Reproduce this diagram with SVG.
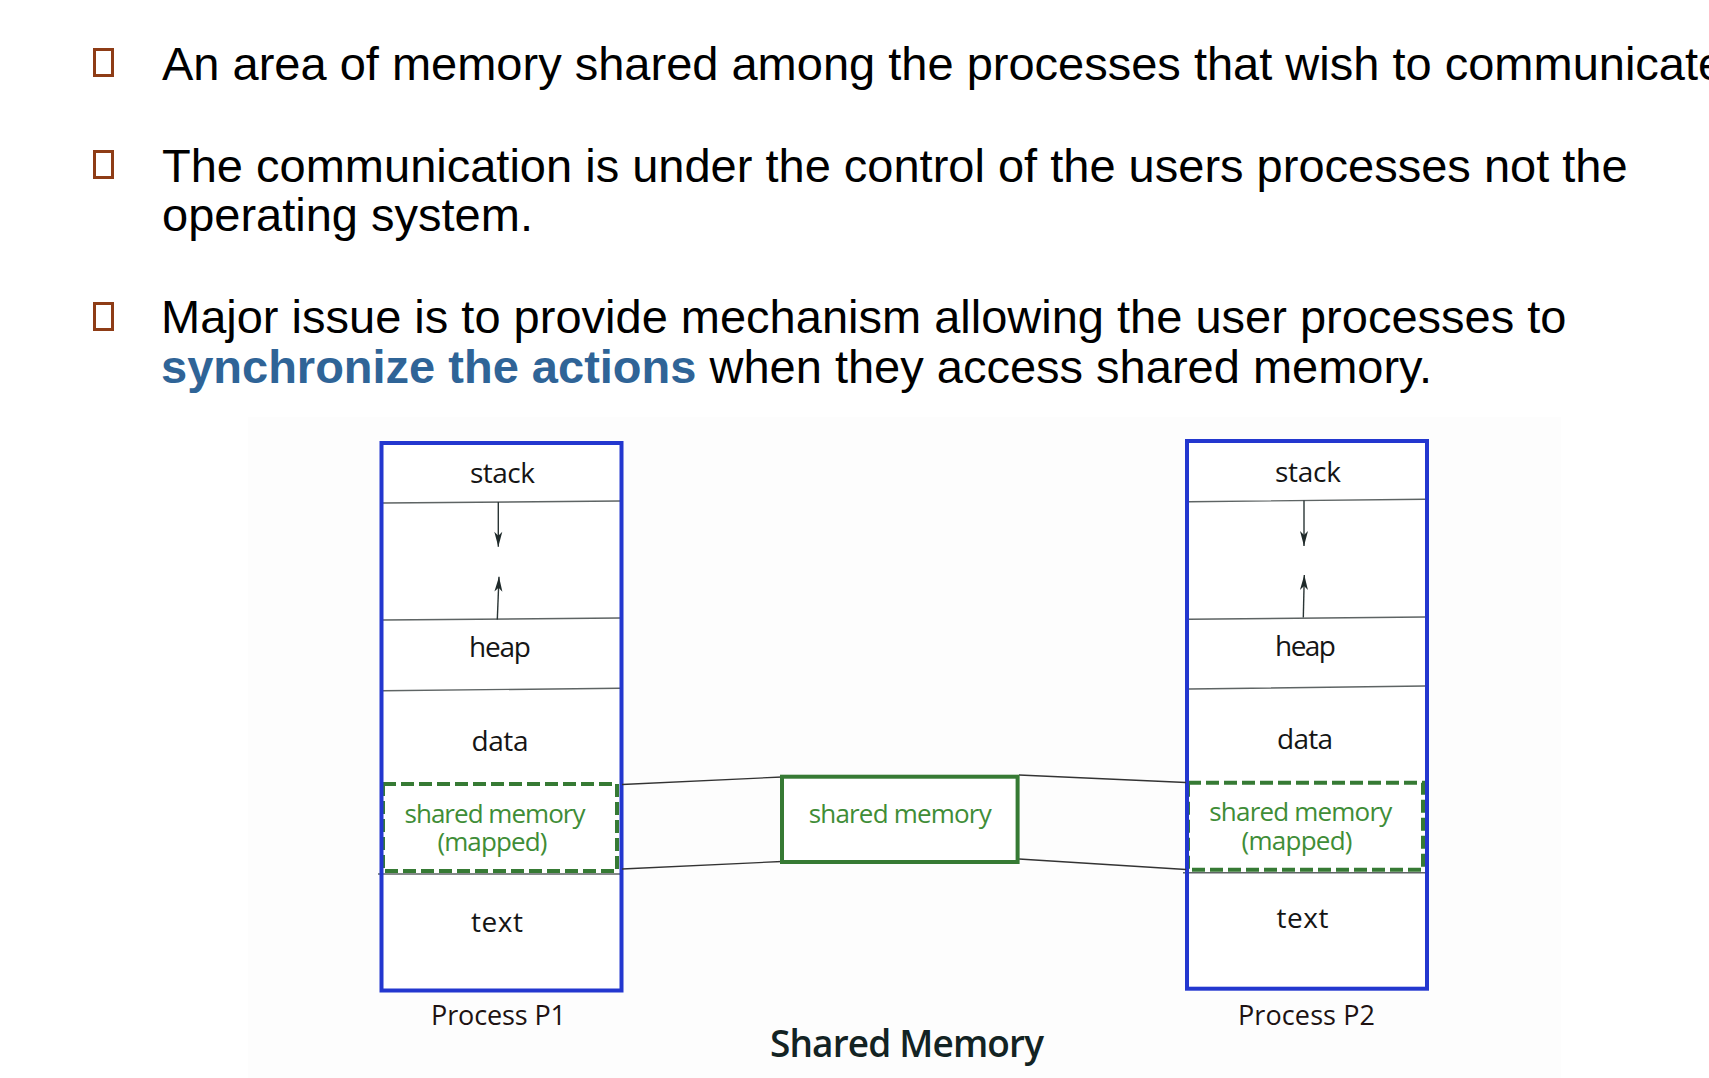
<svg xmlns="http://www.w3.org/2000/svg" width="1709" height="1078" viewBox="0 0 1709 1078">
  <style>
    .body { font-family: "Liberation Sans", Arial, sans-serif; font-size: 47px; fill: #000; }
    .em { font-weight: bold; fill: #2F6497; }
    .bullet { fill: none; stroke: #8E3C16; stroke-width: 3; }
    .lbl { font-family: "Open Sans", "Noto Sans", sans-serif; font-size: 28px; fill: #151515; text-anchor: middle; }
    .green { fill: #3F8D37; font-size: 26px; }
    .cap { fill: #201212; font-size: 27px; }
    .title { font-family: "Open Sans", "Noto Sans", sans-serif; font-size: 37px; font-weight: 600; fill: #132323; text-anchor: middle; }
    .proc { fill: none; stroke: #2337CF; stroke-width: 4; }
    .divider { fill: none; stroke: #5E6464; stroke-width: 1.4; }
    .mapped { fill: none; stroke: #367A34; stroke-width: 4; stroke-dasharray: 13 5; }
    .shm { fill: #fff; stroke: #367A34; stroke-width: 4; }
    .link { fill: none; stroke: #333; stroke-width: 1.3; }
    .grow { fill: none; stroke: #2A3535; stroke-width: 1.4; marker-end: url(#dart); }
  </style>
  <defs>
    <marker id="dart" viewBox="-16 -5 17 10" refX="0" refY="0" markerWidth="17" markerHeight="10" markerUnits="userSpaceOnUse" orient="auto">
      <path d="M0,0 L-15,-4 L-11,0 L-15,4 Z" fill="#1F2A2A"/>
    </marker>
  </defs>

  <rect width="1709" height="1078" fill="#fff"/>
  <rect x="248" y="417" width="1313" height="661" fill="#fdfdfd"/>

  <!-- bullet points -->
  <g id="bullets">
    <rect class="bullet" x="94.5" y="49.5" width="18" height="26"/>
    <text class="body" x="162" y="80">An area of memory shared among the processes that wish to communicate</text>
    <rect class="bullet" x="94.5" y="151.5" width="18" height="26"/>
    <text class="body" x="162" y="181.5">The communication is under the control of the users processes not the</text>
    <text class="body" x="162" y="231">operating system.</text>
    <rect class="bullet" x="94.5" y="303.5" width="18" height="26"/>
    <text class="body" x="161" y="333">Major issue is to provide mechanism allowing the user processes to</text>
    <text class="body" x="161" y="383"><tspan class="em">synchronize the actions</tspan> when they access shared memory.</text>
  </g>

  <!-- process P1 address space -->
  <g id="p1">
    <rect x="381.5" y="443" width="240" height="547.5" fill="#fff"/>
    <path class="divider" d="M383,503 L620,501 M383,620 L620,618 M383,690.7 L620,688.3 M378,874 L620,874"/>
    <line class="grow" x1="498.3" y1="502" x2="498.3" y2="546.7"/>
    <line class="grow" x1="497.3" y1="619.5" x2="499" y2="576.7"/>
    <rect class="mapped" x="383" y="784" width="234" height="87"/>
    <rect class="proc" x="381.5" y="443" width="240" height="547.5"/>
    <text class="lbl" x="502.5" y="483" textLength="65">stack</text>
    <text class="lbl" x="500" y="656.5" textLength="62">heap</text>
    <text class="lbl" x="500" y="750.5" textLength="57">data</text>
    <text class="lbl green" x="495" y="822.5" textLength="181">shared memory</text>
    <text class="lbl green" x="492.4" y="850.5" textLength="110">(mapped)</text>
    <text class="lbl" x="497" y="931.7" textLength="52">text</text>
    <text class="lbl cap" x="498.5" y="1025" textLength="135">Process P1</text>
  </g>

  <!-- process P2 address space -->
  <g id="p2">
    <rect x="1187" y="441" width="240" height="547.7" fill="#fff"/>
    <path class="divider" d="M1189,501.7 L1425,499.3 M1189,619.3 L1425,617 M1189,689 L1425,686 M1183,872.7 L1425,872.7"/>
    <line class="grow" x1="1304" y1="500.5" x2="1304" y2="546"/>
    <line class="grow" x1="1303.3" y1="617.5" x2="1304.3" y2="575"/>
    <rect class="mapped" x="1188" y="782.7" width="235" height="87"/>
    <rect class="proc" x="1187" y="441" width="240" height="547.7"/>
    <text class="lbl" x="1308" y="481.7" textLength="66">stack</text>
    <text class="lbl" x="1305.5" y="656" textLength="61">heap</text>
    <text class="lbl" x="1305" y="749.3" textLength="56">data</text>
    <text class="lbl green" x="1300.8" y="821" textLength="183">shared memory</text>
    <text class="lbl green" x="1297" y="850" textLength="111">(mapped)</text>
    <text class="lbl" x="1302.5" y="928.3" textLength="52">text</text>
    <text class="lbl cap" x="1306.5" y="1025" textLength="137">Process P2</text>
  </g>

  <!-- mapping lines between the shared segment and each process -->
  <g id="connectors">
    <line class="link" x1="622" y1="784.5" x2="782" y2="777"/>
    <line class="link" x1="622" y1="869" x2="782" y2="861.5"/>
    <line class="link" x1="1019" y1="775" x2="1186" y2="782.5"/>
    <line class="link" x1="1019" y1="859" x2="1186" y2="869.5"/>
  </g>

  <!-- the shared segment itself -->
  <g id="shared">
    <rect class="shm" x="782" y="776.7" width="235.6" height="85.3"/>
    <text class="lbl green" x="900.2" y="822.7" textLength="183">shared memory</text>
  </g>

  <g id="caption">
    <text class="title" x="907" y="1057" textLength="274">Shared Memory</text>
  </g>
</svg>
